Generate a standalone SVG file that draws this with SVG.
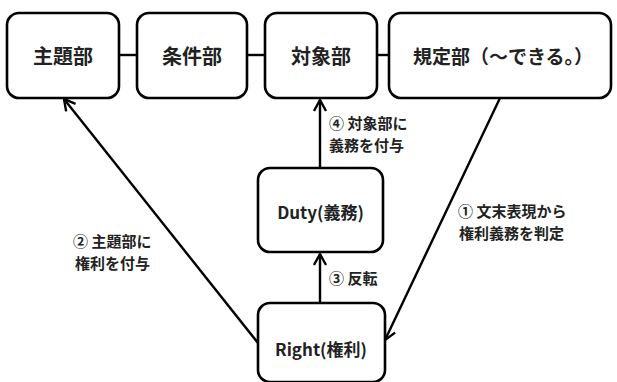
<svg xmlns="http://www.w3.org/2000/svg" width="617" height="382" viewBox="0 0 617 382">
<style>
.box{fill:#fff;stroke:#000;stroke-width:2.6}
.t{font-family:"Noto Sans CJK JP","Noto Sans",sans-serif;font-weight:bold;font-size:20px;text-anchor:middle;dominant-baseline:central;fill:#222}
.tl{font-family:"Noto Sans CJK JP","Noto Sans",sans-serif;font-weight:bold;font-size:15px;fill:#222}
.c{fill:none;stroke:#000;stroke-width:2.4}
</style>
<defs>
<marker id="ah" markerUnits="userSpaceOnUse" markerWidth="16" markerHeight="16" refX="12" refY="7" orient="auto">
<path d="M1,1 L12,7 L1,13" fill="none" stroke="#000" stroke-width="2.4"/>
</marker>
</defs>
<g id="connectors">
<line class="c" x1="119" y1="55" x2="137" y2="55"/>
<line class="c" x1="247" y1="55" x2="265" y2="55"/>
<line class="c" x1="377" y1="55" x2="389" y2="55"/>
<line class="c" x1="320" y1="168" x2="320" y2="100" marker-end="url(#ah)"/>
<line class="c" x1="320" y1="303" x2="320" y2="254" marker-end="url(#ah)"/>
<line class="c" x1="258" y1="343" x2="64" y2="99" marker-end="url(#ah)"/>
<line class="c" x1="500" y1="98" x2="385" y2="340" marker-end="url(#ah)"/>
<text class="tl" x="329" y="129">④ 対象部に<tspan x="329" dy="22">義務を付与</tspan></text>
<text class="tl" x="329" y="284">③ 反転</text>
<text class="tl" x="73" y="247">② 主題部に<tspan x="75" dy="22">権利を付与</tspan></text>
<text class="tl" x="458" y="217">① 文末表現から<tspan x="459" dy="22">権利義務を判定</tspan></text>
</g>
<g id="n-shudai"><rect class="box" x="7" y="13" width="112" height="85" rx="12"/><text class="t" x="63" y="55">主題部</text></g>
<g id="n-joken"><rect class="box" x="137" y="13" width="110" height="85" rx="12"/><text class="t" x="192" y="55">条件部</text></g>
<g id="n-taisho"><rect class="box" x="265" y="13" width="112" height="85" rx="12"/><text class="t" x="321" y="55">対象部</text></g>
<g id="n-kitei"><rect class="box" x="389" y="13" width="222" height="85" rx="12"/><text class="t" x="503" y="55" style="font-size:19px">規定部（～できる。）</text></g>
<g id="n-duty"><rect class="box" x="258" y="168" width="125" height="84" rx="12"/><text class="t" x="320.5" y="211" style="font-size:17px">Duty(義務)</text></g>
<g id="n-right"><rect class="box" x="258" y="303" width="127" height="79" rx="12"/><text class="t" x="321" y="348" style="font-size:17px">Right(権利)</text></g>
</svg>
